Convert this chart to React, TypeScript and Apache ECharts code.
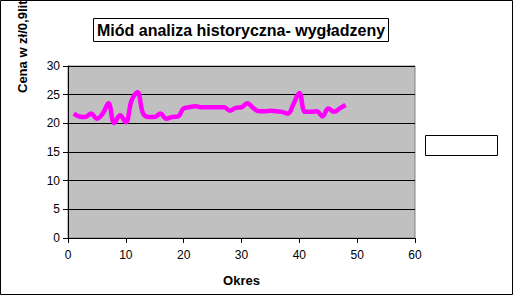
import React, { useEffect, useRef } from "react";
import * as echarts from "echarts";

const periods: number[] = Array.from({ length: 48 }, (_, i) => i + 1);
const prices: number[] = [
  21.7, 21.2, 21.1, 21.7, 20.8, 21.7, 23.5, 20.05, 21.4, 20.2,
  24.0, 25.4, 21.7, 21.1, 21.1, 21.7, 20.8, 21.1, 21.2, 22.6,
  22.8, 23.0, 22.8, 22.8, 22.8, 22.8, 22.8, 22.2, 22.7, 22.8,
  23.5, 22.7, 22.1, 22.1, 22.2, 22.1, 22.0, 21.7, 23.4, 25.3,
  22.0, 22.0, 22.1, 21.2, 22.6, 22.0, 22.6, 23.2,
];
const titleText = "Miód analiza historyczna- wygładzeny";
const yAxisTitle = "Cena w zł/0,9litra";
const xAxisTitle = "Okres";

const FONT = "'Liberation Sans', Arial, sans-serif";

export default function App() {
  const ref = useRef<HTMLDivElement>(null);
  useEffect(() => {
    document.body.style.margin = "0";
    if (!ref.current) return;
    const chart = echarts.init(ref.current, null, { renderer: "svg" });
    chart.setOption({
      animation: false,
      backgroundColor: "#ffffff",
      textStyle: { fontFamily: FONT },
      title: {
        text: titleText,
        left: 93,
        top: 18,
        padding: [4, 4, 4, 4],
        borderColor: "#000",
        borderWidth: 1,
        textStyle: { fontSize: 16, fontWeight: "bold", color: "#000", fontFamily: FONT },
      },
      grid: {
        left: 68,
        top: 66,
        right: 99,
        bottom: 58,
        show: true,
        backgroundColor: "#c0c0c0",
        borderColor: "#808080",
        borderWidth: 1,
      },
      xAxis: {
        type: "value",
        min: 0,
        max: 60,
        interval: 10,
        name: xAxisTitle,
        nameLocation: "middle",
        nameGap: 36,
        nameTextStyle: { fontWeight: "bold", fontSize: 13, color: "#000", fontFamily: FONT },
        axisLine: { show: true, lineStyle: { color: "#000", width: 1 } },
        axisTick: { show: true, inside: false, length: 5, lineStyle: { color: "#000" } },
        axisLabel: { fontSize: 12, color: "#000", margin: 11, fontFamily: FONT },
        splitLine: { show: false },
      },
      yAxis: {
        type: "value",
        min: 0,
        max: 30,
        interval: 5,
        axisLine: { show: true, lineStyle: { color: "#000", width: 1 } },
        axisTick: { show: true, inside: false, length: 5, lineStyle: { color: "#000" } },
        axisLabel: { fontSize: 12, color: "#000", margin: 8, fontFamily: FONT },
        splitLine: { show: true, lineStyle: { color: "#000", width: 1 } },
      },
      series: [
        {
          type: "line",
          data: periods.map((p, i) => [p, prices[i]]),
          smooth: 0.4,
          showSymbol: false,
          symbol: "none",
          lineStyle: { color: "#ff00ff", width: 4.5 },
          itemStyle: { color: "#ff00ff" },
        },
      ],
      graphic: [
        {
          type: "rect",
          shape: { x: 0.5, y: 0.5, width: 512, height: 294 },
          style: { fill: "none", stroke: "#000", lineWidth: 1 },
          z: 100,
        },
        {
          type: "rect",
          shape: { x: 425.5, y: 135.5, width: 72, height: 20 },
          style: { fill: "#fff", stroke: "#000", lineWidth: 1 },
        },
        {
          type: "text",
          x: 22,
          y: 93,
          rotation: Math.PI / 2,
          style: {
            text: yAxisTitle,
            fontSize: 13,
            fontWeight: "bold",
            fontFamily: FONT,
            fill: "#000",
            align: "left",
            verticalAlign: "middle",
          },
        },
      ],
    });
    return () => chart.dispose();
  }, []);
  return <div ref={ref} style={{ width: 514, height: 296 }} />;
}
